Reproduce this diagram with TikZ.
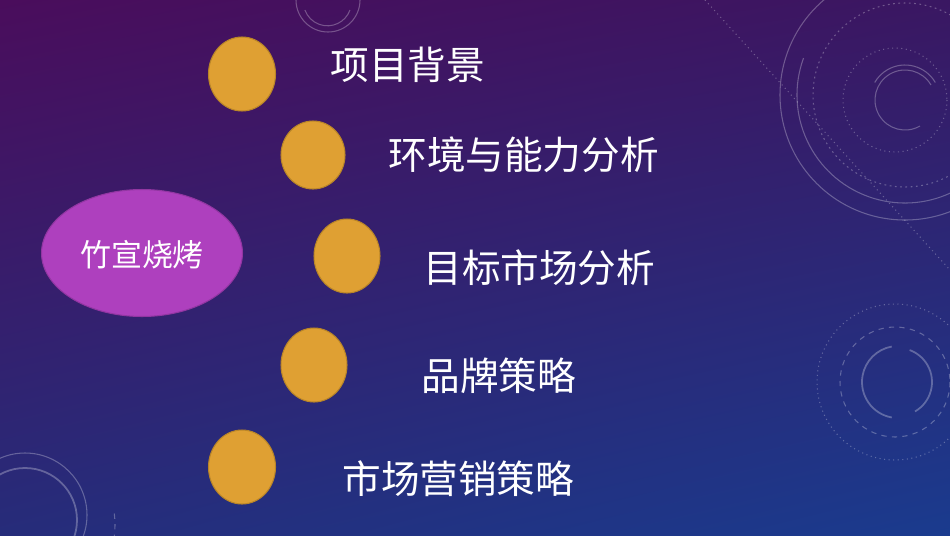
\documentclass[tikz,border=0pt]{standalone}
\usepackage{fontspec}
\setmainfont{Noto Sans CJK SC}
\usetikzlibrary{shapes.geometric,shadings}
\definecolor{bgUL}{HTML}{4A0D5C}
\definecolor{bgUR}{HTML}{3A1762}
\definecolor{bgLL}{HTML}{262C7A}
\definecolor{bgLR}{HTML}{1A3B8E}
\definecolor{dotfill}{HTML}{DFA033}
\definecolor{dotline}{HTML}{B98528}
\definecolor{ovfill}{HTML}{AE40BE}
\definecolor{ovline}{HTML}{9236A2}
\tikzset{
  dot/.style={ellipse, fill=dotfill, draw=dotline, line width=0.6pt, inner sep=0pt},
  item/.style={anchor=west, text=white, inner sep=0pt, font=\fontsize{22}{26}\selectfont},
  hud/.style={draw=white, draw opacity=0.28, line width=0.6pt},
}
\begin{document}
\begin{tikzpicture}[x=0.02cm, y=-0.02cm]
\useasboundingbox (0,0) rectangle (950,535);
\shade[upper left=bgUL, upper right=bgUR, lower left=bgLL, lower right=bgLR] (0,0) rectangle (950,535);
% decorative HUD elements
\draw[hud] (328,0) circle (32);
\draw[hud] (350,10) arc (20:160:24);
\draw[hud, dotted] (705,0) -- (950,270);
\draw[hud] (905,95) circle (125);
\draw[hud] (905,95) ++(200:108) arc (200:20:108);
\draw[hud, dashed, dash pattern=on 1pt off 2pt] (905,95) circle (92);
\draw[hud, dotted] (895,100) circle (52);
\draw[hud] (905,100) ++(60:30) arc (60:330:30);
\draw[hud] (905,100) ++(-30:35) arc (-30:-150:35);
\draw[hud, dotted] (895,382) circle (78);
\draw[hud, dashed] (895,382) circle (55);
\draw[hud, line width=1pt] (898,382) ++(100:36) arc (100:260:36);
\draw[hud, line width=1pt] (898,382) ++(60:34) arc (60:-70:34);
\draw[hud] (25,515) circle (62);
\draw[hud, line width=1pt] (25,520) circle (52);
\draw[hud, dashed] (25,525) ++(90:90) arc (90:-10:90);
% centre ellipse
\node[ellipse, fill=ovfill, draw=ovline, line width=0.6pt, inner sep=0pt,
      minimum width=4.02cm, minimum height=2.54cm] (core) at (142,253) {};
\node[text=white, font=\fontsize{17.6}{20}\selectfont] (coretext) at (142,255) {竹宣烧烤};
% dots
\node[dot, minimum width=1.34cm, minimum height=1.48cm] (d1) at (242,74) {};
\node[dot, minimum width=1.28cm, minimum height=1.36cm] (d2) at (313,155) {};
\node[dot, minimum width=1.32cm, minimum height=1.48cm] (d3) at (347,256) {};
\node[dot, minimum width=1.32cm, minimum height=1.48cm] (d4) at (314,365) {};
\node[dot, minimum width=1.34cm, minimum height=1.48cm] (d5) at (242,467) {};
% item labels
\node[item] (t1) at (330,65) {项目背景};
\node[item] (t2) at (388,155) {环境与能力分析};
\node[item] (t3) at (423,268) {目标市场分析};
\node[item] (t4) at (421,376) {品牌策略};
\node[item] (t5) at (342,479) {市场营销策略};
\end{tikzpicture}
\end{document}
